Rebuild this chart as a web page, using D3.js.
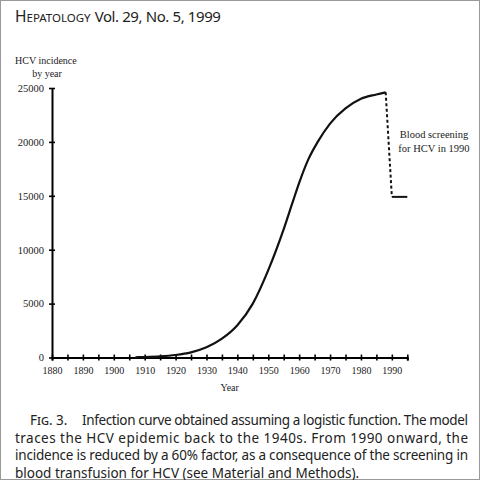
<!DOCTYPE html>
<html>
<head>
<meta charset="utf-8">
<script src="https://cdn.jsdelivr.net/npm/d3@7"></script>
<style>
  body { margin: 0; background: #fff; }
  svg { display: block; }
</style>
</head>
<body>
<div id="chart"></div>
<script>
// model curve
const years = [1907, 1910, 1915, 1920, 1925, 1930, 1935, 1940, 1945, 1950, 1955, 1958, 1960, 1963, 1966, 1970, 1975, 1980, 1985, 1988];
const incidence = [20, 40, 100, 230, 480, 950, 1750, 3000, 5000, 8100, 11900, 14500, 16200, 18400, 20000, 21700, 23100, 24000, 24400, 24600];

// screening drop and level after 1990
const dropYears = [1988, 1990];
const dropValues = [24600, 14900];
const afterYears = [1990, 1995];
const afterValues = [14900, 14900];

const xTicks = d3.range(1880, 1996, 5);
const xTickLabels = ["1880", "1890", "1900", "1910", "1920", "1930", "1940", "1950", "1960", "1970", "1980", "1990"];
const yTicks = [0, 5000, 10000, 15000, 20000, 25000];

const captionLines = [
  "Infection curve obtained assuming a logistic function. The model",
  "traces the HCV epidemic back to the 1940s. From 1990 onward, the",
  "incidence is reduced by a 60% factor, as a consequence of the screening in",
  "blood transfusion for HCV (see Material and Methods)."
];

const W = 480, H = 480;
const svg = d3.select("#chart").append("svg")
  .attr("width", W)
  .attr("height", H);

svg.append("rect")
  .attr("x", 0.5).attr("y", 0.5)
  .attr("width", W - 1).attr("height", H - 1)
  .attr("fill", "#fff")
  .attr("stroke", "#999");

const sans = "'Noto Sans', sans-serif";
const serif = "'Liberation Serif', 'DejaVu Serif', serif";

// journal header (small caps built by hand)
const head = svg.append("text")
  .attr("x", 15).attr("y", 22)
  .style("font-family", sans)
  .attr("fill", "#222");
head.append("tspan").style("font-size", "15.5px").text("H");
head.append("tspan").style("font-size", "11.5px").text("EPATOLOGY");
const headW = head.node().getComputedTextLength();
svg.append("text")
  .attr("x", 15 + headW + 4).attr("y", 22)
  .style("font-family", sans).style("font-size", "15px")
  .style("letter-spacing", "-0.4px")
  .attr("fill", "#222")
  .text("Vol. 29, No. 5, 1999");

const x = d3.scaleLinear().domain([1880, 1995]).range([52, 407.3]);
const y = d3.scaleLinear().domain([0, 25000]).range([357.5, 88]);

// x axis
svg.append("g")
  .attr("transform", `translate(0,${y(0)})`)
  .call(d3.axisBottom(x)
    .tickValues(xTicks)
    .tickSize(3)
    .tickPadding(6)
    .tickFormat(d => d % 10 === 0 ? xTickLabels[(d - 1880) / 10] : ""))
  .call(g => g.select(".domain").attr("stroke-width", 2))
  .call(g => g.selectAll(".tick line").attr("y1", -3).attr("y2", 3).attr("stroke-width", 1.6))
  .call(g => g.selectAll(".tick text")
    .style("font-family", serif).style("font-size", "10px").attr("fill", "#222"));

// y axis
svg.append("g")
  .attr("transform", `translate(${x(1880)},0)`)
  .call(d3.axisLeft(y)
    .tickValues(yTicks)
    .tickSize(3)
    .tickPadding(5)
    .tickSizeOuter(0)
    .tickFormat(d3.format("d")))
  .call(g => g.select(".domain").attr("stroke-width", 2))
  .call(g => g.selectAll(".tick line").attr("x1", -3).attr("x2", 3).attr("stroke-width", 1.6))
  .call(g => g.selectAll(".tick text")
    .style("font-family", serif).style("font-size", "10.5px").attr("fill", "#222"));

// axis titles
svg.append("text")
  .attr("x", 15).attr("y", 64)
  .style("font-family", serif).style("font-size", "10px")
  .attr("fill", "#222")
  .text("HCV incidence");
svg.append("text")
  .attr("x", 47).attr("y", 77)
  .attr("text-anchor", "middle")
  .style("font-family", serif).style("font-size", "10px")
  .attr("fill", "#222")
  .text("by year");
svg.append("text")
  .attr("x", (x(1880) + x(1995)) / 2).attr("y", 391)
  .attr("text-anchor", "middle")
  .style("font-family", serif).style("font-size", "10px")
  .attr("fill", "#222")
  .text("Year");

const line = d3.line()
  .x(d => x(d[0]))
  .y(d => y(d[1]))
  .curve(d3.curveMonotoneX);

svg.append("path")
  .datum(d3.zip(years, incidence))
  .attr("d", line)
  .attr("fill", "none")
  .attr("stroke", "#111")
  .attr("stroke-width", 2.2);

svg.append("path")
  .datum(d3.zip(dropYears, dropValues))
  .attr("d", d3.line().x(d => x(d[0])).y(d => y(d[1])))
  .attr("fill", "none")
  .attr("stroke", "#111")
  .attr("stroke-width", 2)
  .attr("stroke-dasharray", "3,2.5");

svg.append("path")
  .datum(d3.zip(afterYears, afterValues))
  .attr("d", d3.line().x(d => x(d[0])).y(d => y(d[1])))
  .attr("fill", "none")
  .attr("stroke", "#111")
  .attr("stroke-width", 2);

// annotation
svg.append("text")
  .attr("x", 434).attr("y", 138)
  .attr("text-anchor", "middle")
  .style("font-family", serif).style("font-size", "10.5px")
  .attr("fill", "#222")
  .text("Blood screening");
svg.append("text")
  .attr("x", 434).attr("y", 152)
  .attr("text-anchor", "middle")
  .style("font-family", serif).style("font-size", "10.5px")
  .attr("fill", "#222")
  .text("for HCV in 1990");

// caption
const cap = svg.append("g")
  .style("font-family", sans)
  .style("font-size", "13.5px")
  .attr("fill", "#222");
cap.append("text")
  .attr("x", 30)
  .attr("y", 425)
  .style("font-variant", "small-caps")
  .text("Fig. 3.");
captionLines.forEach((t, i) => {
  const tx = cap.append("text")
    .attr("x", i === 0 ? 82 : 15)
    .attr("y", 425 + i * 17.5)
    .text(t);
  if (i < 3) {
    tx.attr("textLength", i === 0 ? 386 : 453).attr("lengthAdjust", "spacing");
  }
});
</script>
</body>
</html>
